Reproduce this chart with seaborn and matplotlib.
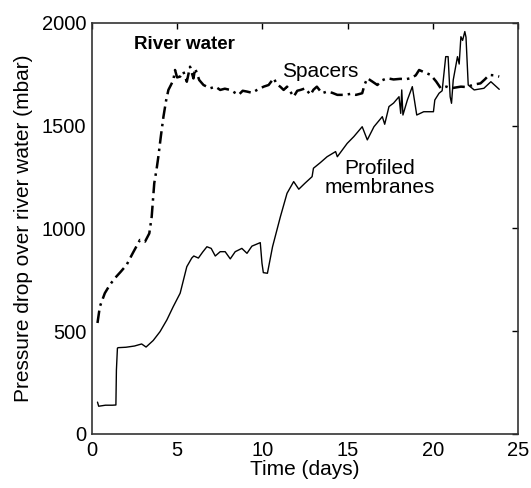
# Pressure drop over river water compartment - spacers vs profiled membranes

import numpy as np
import pandas as pd
import matplotlib
matplotlib.use("Agg")
import matplotlib.pyplot as plt
import seaborn as sns

# -----------------------------
# Data
# -----------------------------
spacer_days = [0.33, 0.47, 0.76, 1.05, 1.35, 1.7, 2.04, 2.4, 2.82, 3.12, 3.37, 3.51,
               3.66, 3.8, 3.9, 4.05, 4.2, 4.35, 4.49, 4.65, 4.78, 4.88, 5.0, 5.18,
               5.37, 5.57, 5.76, 5.96, 6.06, 6.3, 6.55, 6.94, 7.25, 7.53, 7.8, 8.12,
               8.4, 8.61, 8.85, 9.1, 9.4, 9.69, 10.08, 10.37, 10.67, 10.86, 11.05,
               11.25, 11.45, 11.65, 11.84, 12.05, 12.24, 12.53, 12.82, 13.0, 13.2,
               13.5, 13.8, 14.1, 14.4, 14.8, 15.2, 15.5, 15.86, 16.0, 16.16, 16.45,
               16.75, 17.0, 17.33, 17.7, 18.1, 18.4, 18.71, 19.0, 19.2, 19.5, 19.88,
               20.2, 20.47, 20.8, 21.06, 21.35, 21.65, 22.0, 22.4, 22.8, 23.05, 23.31,
               23.6, 23.9]
spacer_mbar = [540, 620, 685, 725, 758, 790, 823, 880, 944, 936, 976, 1057,
               1220, 1290, 1349, 1450, 1544, 1620, 1674, 1700, 1722, 1771, 1735, 1739,
               1763, 1714, 1787, 1730, 1779, 1722, 1698, 1682, 1690, 1674, 1680, 1674,
               1660, 1650, 1670, 1666, 1660, 1674, 1690, 1698, 1731, 1700, 1690,
               1674, 1690, 1665, 1641, 1670, 1674, 1682, 1650, 1675, 1690,
               1658, 1666, 1660, 1650, 1650, 1655, 1650, 1658, 1700, 1731, 1715,
               1698, 1720, 1731, 1725, 1728, 1726, 1731, 1745, 1771, 1760, 1747,
               1715, 1682, 1690, 1682, 1686, 1690, 1688, 1700, 1706, 1725, 1747,
               1745, 1739]

membrane_days = [0.33, 0.4, 0.8, 1.2, 1.41, 1.44, 1.5, 1.55, 2.0, 2.5, 2.92, 3.18,
                 3.6, 4.0, 4.4, 4.77, 5.18, 5.57, 5.86, 5.98, 6.25, 6.5, 6.75, 7.0,
                 7.24, 7.53, 7.82, 8.12, 8.41, 8.8, 9.1, 9.39, 9.88, 9.98, 10.06,
                 10.3, 10.6, 11.06, 11.45, 11.84, 12.14, 12.5, 12.92, 13.0, 13.4,
                 13.8, 14.3, 14.4, 14.98, 15.37, 15.86, 16.16, 16.55, 17.04, 17.18,
                 17.43, 17.7, 18.02, 18.12, 18.18, 18.25, 18.51, 18.8, 19.06, 19.47,
                 20.04, 20.12, 20.37, 20.55, 20.76, 20.9, 21.02, 21.1, 21.2, 21.45,
                 21.55, 21.65, 21.75, 21.88, 21.95, 22.08, 22.43, 23.0, 23.41, 23.9]
membrane_mbar = [155, 135, 140, 140, 141, 311, 418, 420, 422, 428, 438, 423,
                 455, 498, 555, 619, 685, 814, 856, 866, 856, 885, 911, 903,
                 866, 887, 887, 852, 887, 903, 879, 914, 931, 831, 785,
                 782, 911, 1057, 1171, 1228, 1191, 1220, 1252, 1293, 1320,
                 1349, 1374, 1349, 1414, 1447, 1495, 1431, 1495, 1544, 1507,
                 1593, 1610, 1641, 1560, 1674, 1552, 1625, 1690, 1552, 1568,
                 1568, 1625, 1658, 1670, 1836, 1836, 1641, 1609, 1722, 1836,
                 1800, 1933, 1915, 1958, 1930, 1698, 1674, 1682, 1714, 1677]

# -----------------------------
# Plot
# -----------------------------
sns.set_theme(style="white")
plt.rcParams["font.family"] = ["Liberation Sans", "DejaVu Sans"]
plt.rcParams["text.color"] = "black"
plt.rcParams["axes.labelcolor"] = "black"

fig = plt.figure(figsize=(5.31, 4.88), dpi=100)
ax = fig.add_axes([0.173, 0.1107, 0.8025, 0.8423])

sns.lineplot(x=spacer_days, y=spacer_mbar, ax=ax, color="black", linewidth=1.8,
             linestyle=(0, (5, 2, 1, 2)), estimator=None, sort=False)
sns.lineplot(x=membrane_days, y=membrane_mbar, ax=ax, color="black", linewidth=1.0,
             estimator=None, sort=False)

ax.set_xlim(0, 25)
ax.set_ylim(0, 2000)
ax.set_xticks([0, 5, 10, 15, 20, 25])
ax.set_yticks([0, 500, 1000, 1500, 2000])
ax.tick_params(direction="in", length=4, width=1, top=True, right=True,
               labelsize=14.5, colors="black")
ax.tick_params(axis="x", pad=5)
ax.tick_params(axis="y", pad=4)
for s in ax.spines.values():
    s.set_color("#333333")
    s.set_linewidth(1.2)

ax.set_xlabel("Time (days)", fontsize=15, labelpad=0)
ax.set_ylabel("Pressure drop over river water (mbar)", fontsize=15, labelpad=6)

ax.text(2.5, 1893, "River water", fontsize=13.5, fontweight="bold", va="center", ha="left")
ax.text(13.4, 1763, "Spacers", fontsize=15, va="center", ha="center")
ax.text(16.9, 1245, "Profiled\nmembranes", fontsize=15, va="center", ha="center",
        linespacing=1.0)

fig.savefig("out.png", dpi=100)
